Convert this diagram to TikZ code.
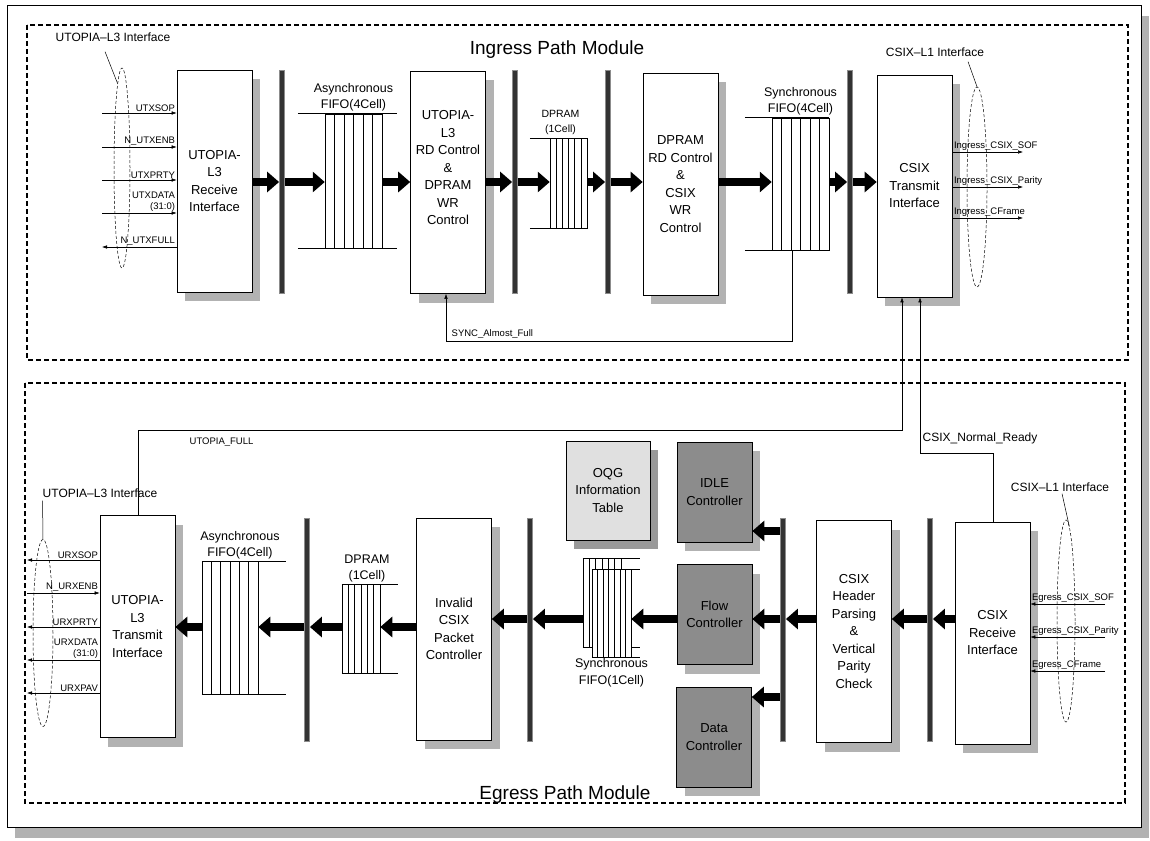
\documentclass[tikz,border=0pt]{standalone}
\usepackage{fontspec}
\setmainfont{Liberation Sans}
\usetikzlibrary{arrows.meta,positioning,shadows,shapes.geometric}

\tikzset{
  shadowed/.style={drop shadow={shadow xshift=8pt, shadow yshift=-9pt, fill=#1, opacity=1}},
  shadowed/.default=black!30,
  blkbase/.style={draw, line width=0.6pt, inner sep=1pt, align=center, font=\fontsize{13}{17.5}\selectfont},
  block/.style={blkbase, shadowed, fill=white, minimum width=75pt, minimum height=222pt},
  ctrl/.style={blkbase, shadowed, fill=black!45, minimum width=75pt, minimum height=100pt},
  infotab/.style={blkbase, shadowed=black!40, fill=black!12, minimum width=84pt, minimum height=99pt},
  bus/.style={draw=black!45, fill=black!80, line width=0.8pt, minimum width=5pt, minimum height=223pt, inner sep=0pt},
  fifobox/.style={draw, fill=white, line width=0.5pt, inner sep=0pt},
  fat/.style={line width=7.5pt, -{Triangle[length=12pt,width=20pt]}},
  sig/.style={line width=0.5pt, -{Latex[length=5pt,width=3.5pt]}},
  lbl/.style={font=\fontsize{9.5}{11}\selectfont, inner sep=1.5pt},
  fifolbl/.style={font=\fontsize{12.5}{16.5}\selectfont, align=center, inner sep=0pt},
  ifname/.style={font=\fontsize{12}{14}\selectfont, inner sep=1pt},
  iface/.style={ellipse, draw, densely dashed, line width=0.5pt, inner sep=0pt},
  module/.style={line width=1.1pt, dash pattern=on 5pt off 3pt},
  modtitle/.style={font=\fontsize{19}{22}\selectfont, inner sep=0pt},
}

% \fifocells{name}{left}{right}{top}{bottom}{inner lines}{ext left}{ext right}
\newcommand{\fifocells}[8]{%
  \node[fifobox, minimum width={#3-#2}, minimum height={#5-#4}] (#1) at ({(#2+#3)/2},{(#4+#5)/2}) {};
  \foreach \k in {1,...,#6}
    \draw[line width=0.5pt] ({#2+(#3-#2)*\k/(#6+1)},#4) -- ({#2+(#3-#2)*\k/(#6+1)},#5);
  \draw[line width=0.5pt] ([xshift=-#7pt]#1.north west) -- ([xshift=#8pt]#1.north east)
    ([xshift=-#7pt]#1.south west) -- ([xshift=#8pt]#1.south east);
}

\begin{document}
\begin{tikzpicture}[x=1pt, y=-1pt]
  \useasboundingbox (0,0) rectangle (1150,840);
  \draw[line width=0.8pt, fill=white, drop shadow={shadow xshift=8pt, shadow yshift=-11pt, fill=black!30, opacity=1}] (7,5) rectangle (1141,827);

  % module frames
  \draw[module] (27,25) rectangle (1128,360);
  \draw[module] (25,383) rectangle (1125,803);
  \node[modtitle] (ingT) at (557,50) {Ingress Path Module};
  \node[modtitle] (egT) at (565,795) {Egress Path Module};

  % ingress blocks
  \node[block] (rxU) at (214.5,181) {UTOPIA-\\L3\\Receive\\Interface};
  \node[block] (ctlU) at (448,182.5) {UTOPIA-\\L3\\RD Control\\\&\\DPRAM\\WR\\Control\\[12pt]\mbox{}};
  \node[block] (ctlD) at (680.5,184) {DPRAM\\RD Control\\\&\\CSIX\\WR\\Control};
  \node[block] (txC) at (914.5,186) {CSIX\\Transmit\\Interface};

  % egress blocks
  \node[block] (txU) at (137.5,626.5) {UTOPIA-\\L3\\Transmit\\Interface};
  \node[block] (inv) at (454,629) {Invalid\\CSIX\\Packet\\Controller};
  \node[block] (hdr) at (854,631.5) {CSIX\\Header\\Parsing\\\&\\Vertical\\Parity\\Check};
  \node[block] (rxC) at (992.5,633) {CSIX\\Receive\\Interface};
  \node[infotab] (oqg) at (608,490.5) {OQG\\Information\\Table};
  \node[ctrl] (idle) at (714.5,492) {IDLE\\Controller};
  \node[ctrl] (flow) at (714.5,614.5) {Flow\\Controller};
  \node[ctrl] (data) at (714,737) {Data\\Controller};

  % buses
  \foreach \n/\x in {busA/282, busB/515, busC/608, busD/850}
    \node[bus] (\n) at (\x,182) {};
  \foreach \n/\x in {busE/307, busF/530, busG/783, busH/930}
    \node[bus] (\n) at (\x,630) {};

  % fifos and dprams
  \fifocells{afI}{325}{382}{114}{248}{5}{27}{15}
  \fifocells{dpI}{550}{587}{138}{228}{5}{20}{0}
  \fifocells{sfI}{772}{829}{118}{250}{5}{27}{0}
  \fifocells{afE}{202}{258}{561}{694}{5}{0}{28}
  \fifocells{dpE}{342}{380}{584}{673}{5}{0}{18}
  \fifocells{sfEb}{583}{621}{558}{647}{5}{0}{19}
  \fifocells{sfEf}{592}{631}{569}{657}{6}{0}{9}
  \node[fifolbl, above=2pt of afI] (afIl) {Asynchronous\\FIFO(4Cell)};
  \node[fifolbl, font=\fontsize{10.5}{14.5}\selectfont, above=3pt of dpI, xshift=-8pt] (dpIl) {DPRAM\\(1Cell)};
  \node[fifolbl, above=2pt of sfI] (sfIl) {Synchronous\\FIFO(4Cell)};
  \node[fifolbl, above=1pt of afE, xshift=10pt] (afEl) {Asynchronous\\FIFO(4Cell)};
  \node[fifolbl, above=1pt of dpE, xshift=6pt] (dpEl) {DPRAM\\(1Cell)};
  \node[fifolbl, below=1pt of sfEf] (sfEl) {Synchronous\\FIFO(1Cell)};

  % data path
  \coordinate (rowI) at (0,182);
  \coordinate (rowE) at (0,619);
  \coordinate (rowF) at (0,627);
  \coordinate (rowIdle) at (0,531);
  \coordinate (rowData) at (0,697);
  \foreach \a/\b in {rxU/busA, busA/afI, afI/ctlU, ctlU/busB, busB/dpI, dpI/busC, busC/ctlD, ctlD/sfI, sfI/busD, busD/txC}
    \draw[fat] (\a.east |- rowI) -- (\b.west |- rowI);
  \foreach \a/\b/\r in {rxC/busH/rowE, busH/hdr/rowE, hdr/busG/rowE, busG/idle/rowIdle, busG/flow/rowE, busG/data/rowData, flow/sfEf/rowE, sfEb/busF/rowE, busF/inv/rowE, inv/dpE/rowF, dpE/busE/rowF, busE/afE/rowF, afE/txU/rowF}
    \draw[fat] (\a.west |- \r) -- (\b.east |- \r);

  % feedback signals
  \draw[sig] ([xshift=-8.5pt]sfI.south) -- ++(0,91) -| ([xshift=-2pt]ctlU.south);
  \node[lbl, anchor=south west] (syncL) at (450,340) {SYNC\_Almost\_Full};
  \draw[sig] ([xshift=0.5pt]txU.north) -- ++(0,-85) -| ([xshift=-12.5pt]txC.south);
  \node[lbl, anchor=west] (utfL) at (188,442) {UTOPIA\_FULL};
  \draw[sig] ([xshift=0.5pt]rxC.north) -- ++(0,-68) -| ([xshift=5.5pt]txC.south);
  \node[lbl, font=\fontsize{12}{14}\selectfont, anchor=west] (cnrL) at (921,438) {CSIX\_Normal\_Ready};

  % interfaces
  \node[iface, minimum width=16pt, minimum height=200pt] (ifUI) at (122,168) {};
  \node[iface, minimum width=20pt, minimum height=200pt] (ifCI) at (977,187) {};
  \node[iface, minimum width=20pt, minimum height=187pt] (ifUE) at (43,633) {};
  \node[iface, minimum width=18pt, minimum height=202pt] (ifCE) at (1066,621) {};
  \node[ifname] (ifUIl) at (113,37) {UTOPIA--L3 Interface};
  \node[ifname] (ifCIl) at (935,52) {CSIX--L1 Interface};
  \node[ifname] (ifUEl) at (100,493) {UTOPIA--L3 Interface};
  \node[ifname] (ifCEl) at (1060,487) {CSIX--L1 Interface};
  \draw[line width=0.5pt] (ifUIl.south) ++(-8,9) -- (ifUI.93);
  \draw[line width=0.5pt] (ifCIl.south) ++(33,4) -- (ifCI.north);
  \draw[line width=0.5pt] (ifUEl.south west) ++(1,2) -- (ifUE.north);
  \draw[line width=0.5pt] (ifCEl.south) ++(2,1) -- (ifCE.88);

  % ingress pins
  \foreach \y/\sn in {113/UTXSOP, 147/N\_UTXENB, 180/UTXPRTY, 213/{UTXDATA\\(31:0)}} {
    \coordinate (ui\y) at (102,\y);
    \draw[sig] (ui\y) -- (ui\y -| rxU.west) node[lbl, align=right, anchor=south east] (uil\y) {\sn};
  }
  \coordinate (uo) at (102,247);
  \draw[sig] (uo -| rxU.west) node[lbl, anchor=south east] (uol) {N\_UTXFULL} -- (uo);
  \foreach \y/\sn in {152/Ingress\_CSIX\_SOF, 187/Ingress\_CSIX\_Parity, 218/Ingress\_CFrame} {
    \coordinate (ci\y) at (1023,\y);
    \draw[sig] (ci\y -| txC.east) node[lbl, anchor=south west] (cil\y) {\sn} -- (ci\y);
  }

  % egress pins
  \foreach \y/\sn in {560/URXSOP, 627/URXPRTY, 660/{URXDATA\\(31:0)}, 693/URXPAV} {
    \coordinate (eo\y) at (27,\y);
    \draw[sig] (eo\y -| txU.west) node[lbl, align=right, anchor=south east] (eol\y) {\sn} -- (eo\y);
  }
  \coordinate (ei) at (27,593);
  \draw[sig] (ei) -- (ei -| txU.west) node[lbl, anchor=south east] (eil) {N\_URXENB};
  \foreach \y/\sn in {604/Egress\_CSIX\_SOF, 637/Egress\_CSIX\_Parity, 671/Egress\_CFrame} {
    \coordinate (ce\y) at (1105,\y);
    \draw[sig] (ce\y) -- (ce\y -| rxC.east) node[lbl, anchor=south west] (cel\y) {\sn};
  }
\end{tikzpicture}
\end{document}
